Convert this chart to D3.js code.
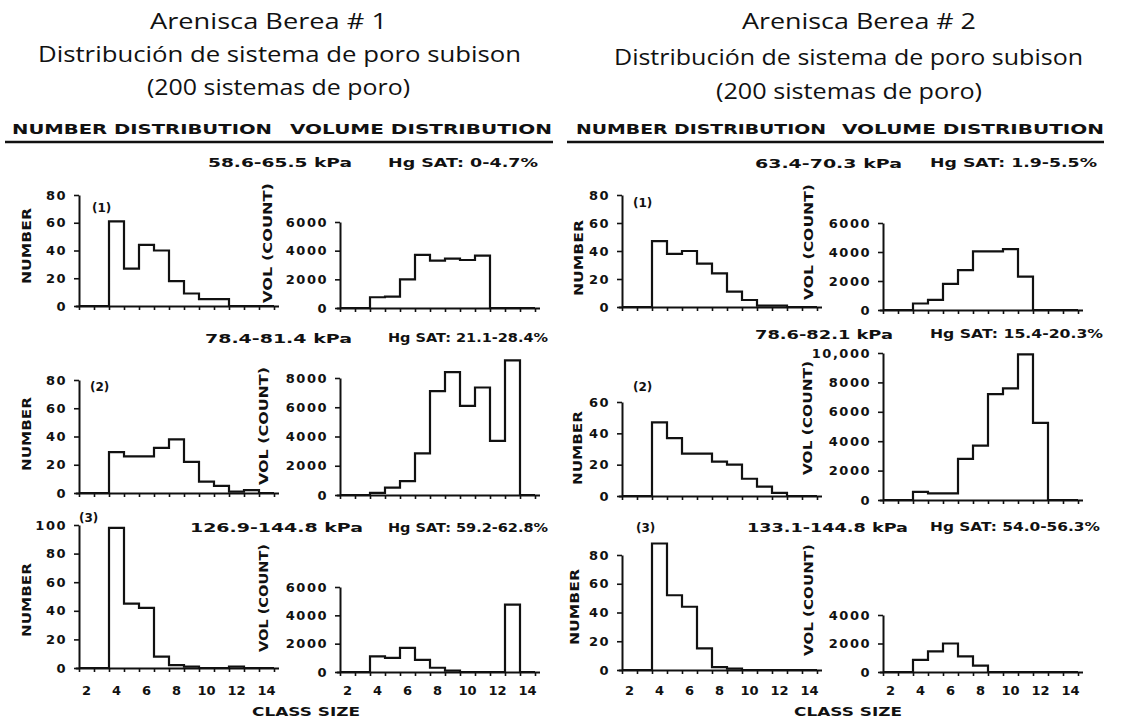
<!DOCTYPE html>
<html><head><meta charset="utf-8">
<script src="https://cdn.jsdelivr.net/npm/d3@7"></script>
<style>body{margin:0;background:#fff;} svg{display:block;}</style>
</head><body><svg id="c" width="1121" height="719"></svg>
<script>
// ---- data (classes 2..14) ----
const classes = [2,3,4,5,6,7,8,9,10,11,12,13,14];
const berea1NumberP1 = [0,0,61,27,44,40,18,9,5,5,0,0,0];
const berea1VolumeP1 = [0,0,750,800,2000,3700,3300,3450,3350,3650,0,0,0];
const berea1NumberP2 = [0,0,29,26,26,32,38,22,8,5,1,2,0];
const berea1VolumeP2 = [0,0,150,500,950,2850,7100,8400,6100,7350,3700,9200,0];
const berea1NumberP3 = [0,0,98,45,42,8,2,1,0,0,1,0,0];
const berea1VolumeP3 = [0,0,1100,1000,1700,850,300,100,0,0,0,4750,0];
const berea2NumberP1 = [0,0,47,38,40,31,24,11,5,1,1,0,0];
const berea2VolumeP1 = [0,0,450,700,1800,2750,4050,4050,4200,2300,0,0,0];
const berea2NumberP2 = [0,0,47,37,27,27,22,20,11,6,2,0,0];
const berea2VolumeP2 = [0,0,550,450,450,2800,3700,7200,7600,9900,5250,0,0];
const berea2NumberP3 = [0,0,88,52,44,15,2,1,0,0,0,0,0];
const berea2VolumeP3 = [0,0,850,1450,2000,1100,450,0,0,0,0,0,0];

// ---- tick values / labels ----
const ticksN60 = [0,20,40,60];
const ticksN80 = [0,20,40,60,80];
const ticksN100 = [0,20,40,60,80,100];
const ticksV4000 = [0,2000,4000];
const ticksV6000 = [0,2000,4000,6000];
const ticksV8000 = [0,2000,4000,6000,8000];
const ticksV10000 = [0,2000,4000,6000,8000,10000];
const labelsV10000 = ["0","2000","4000","6000","8000","10,000"];
const xBinEdges = [1.5,2.5,3.5,4.5,5.5,6.5,7.5,8.5,9.5,10.5,11.5,12.5,13.5,14.5];
const xTickLabels = [2,4,6,8,10,12,14];

const titles1 = ["Arenisca Berea # 1","Distribución de sistema de poro subison","(200 sistemas de poro)"];
const titles2 = ["Arenisca Berea # 2","Distribución de sistema de poro subison","(200 sistemas de poro)"];
const pressure1 = ["58.6-65.5 kPa","78.4-81.4 kPa","126.9-144.8 kPa"];
const hgsat1 = ["Hg SAT: 0-4.7%","Hg SAT: 21.1-28.4%","Hg SAT: 59.2-62.8%"];
const pressure2 = ["63.4-70.3 kPa","78.6-82.1 kPa","133.1-144.8 kPa"];
const hgsat2 = ["Hg SAT: 1.9-5.5%","Hg SAT: 15.4-20.3%","Hg SAT: 54.0-56.3%"];

// ---- drawing ----
const svg = d3.select("#c");
svg.append("rect").attr("width",1121).attr("height",719).attr("fill","#fff");
const BOLD = "'DejaVu Sans', sans-serif";

function fit(x, y, str, len, o) {
  o = o || {};
  const t = svg.append("text").attr("x", x).attr("y", y).text(str)
    .attr("font-family", o.family || BOLD)
    .attr("font-weight", o.weight || "bold")
    .attr("font-size", o.size || 12)
    .attr("fill", "#111")
    .attr("text-anchor", o.anchor || "start");
  if (len) t.attr("textLength", len).attr("lengthAdjust", "spacingAndGlyphs");
  if (o.rotate) t.attr("transform", `rotate(-90,${x},${y})`);
  return t;
}

// titles
const tf = {family:"'Open Sans', sans-serif", weight:"normal", size:21, anchor:"middle"};
fit(268.5, 29, titles1[0], 237, tf);
fit(279.5, 62, titles1[1], 483, tf);
fit(278.5, 95, titles1[2], 263, tf);
fit(859, 29, titles2[0], 234, tf);
fit(848.5, 65, titles2[1], 469, tf);
fit(849, 99, titles2[2], 266, tf);

// section headings
const hf = {size:14};
fit(12, 134, "NUMBER DISTRIBUTION", 260, hf);
fit(290, 134, "VOLUME DISTRIBUTION", 262, hf);
fit(576, 134, "NUMBER DISTRIBUTION", 250, hf);
fit(842, 134, "VOLUME DISTRIBUTION", 262, hf);
svg.append("line").attr("x1",5).attr("x2",553).attr("y1",142).attr("y2",142).attr("stroke","#111").attr("stroke-width",2.5);
svg.append("line").attr("x1",567).attr("x2",1104).attr("y1",142).attr("y2",142).attr("stroke","#111").attr("stroke-width",2.5);

// pressure / saturation labels
const pf = {size:12};
fit(208, 167, pressure1[0], 144, pf); fit(388, 167, hgsat1[0], 150, pf);
fit(755, 168, pressure2[0], 147, pf); fit(930, 167, hgsat2[0], 167, pf);
fit(205, 343, pressure1[1], 147, pf); fit(388, 342, hgsat1[1], 160, pf);
fit(755, 339, pressure2[1], 138, pf); fit(930, 338, hgsat2[1], 173, pf);
fit(190, 532, pressure1[2], 173, pf); fit(388, 532, hgsat1[2], 160, pf);
fit(747, 532, pressure2[2], 161, pf); fit(930, 531, hgsat2[2], 170, pf);

// panels
const panels = [
  {data:berea1NumberP1, ticks:ticksN80,  x0:79,  y0:306, yTop:195},
  {data:berea1VolumeP1, ticks:ticksV6000,x0:340, y0:308, yTop:222},
  {data:berea2NumberP1, ticks:ticksN80,  x0:622, y0:307, yTop:195},
  {data:berea2VolumeP1, ticks:ticksV6000,x0:883, y0:310, yTop:223},
  {data:berea1NumberP2, ticks:ticksN80,  x0:79,  y0:493, yTop:380},
  {data:berea1VolumeP2, ticks:ticksV8000,x0:340, y0:495, yTop:378},
  {data:berea2NumberP2, ticks:ticksN60,  x0:622, y0:496, yTop:402},
  {data:berea2VolumeP2, ticks:ticksV10000,labels:labelsV10000, x0:883, y0:500, yTop:353},
  {data:berea1NumberP3, ticks:ticksN100, x0:79,  y0:668, yTop:525, xLabels:true},
  {data:berea1VolumeP3, ticks:ticksV6000,x0:340, y0:672, yTop:587, xLabels:true},
  {data:berea2NumberP3, ticks:ticksN80,  x0:622, y0:670, yTop:555, xLabels:true},
  {data:berea2VolumeP3, ticks:ticksV4000,x0:883, y0:672, yTop:615, xLabels:true}
];

panels.forEach(p => {
  const g = svg.append("g");
  const x = d3.scaleLinear().domain([1.25, 14.8]).range([p.x0 - 3.75, p.x0 + 13.3*15]);
  const y = d3.scaleLinear().domain([0, d3.max(p.ticks)]).range([p.y0, p.yTop]);

  const xa = g.append("g").attr("transform", `translate(0,${p.y0})`)
    .call(d3.axisBottom(x).tickValues(xBinEdges).tickSize(4).tickSizeOuter(0).tickFormat(""));
  const ya = g.append("g").attr("transform", `translate(${p.x0},0)`)
    .call(d3.axisLeft(y).tickValues(p.ticks).tickSize(5).tickSizeOuter(0).tickPadding(7)
      .tickFormat((d,i) => p.labels ? p.labels[i] : String(d)));
  [xa, ya].forEach(a => {
    a.attr("font-family", null).attr("font-size", null);
    a.select(".domain").attr("stroke","#111").attr("stroke-width",2);
    a.selectAll(".tick line").attr("stroke","#111").attr("stroke-width",1.6);
    a.selectAll(".tick text").attr("font-family", BOLD).attr("font-weight","bold")
      .attr("font-size", 13).attr("letter-spacing", 1.5).attr("fill","#111");
  });

  const pts = [];
  classes.forEach((c,i) => { pts.push([c-0.5, p.data[i]]); pts.push([c+0.5, p.data[i]]); });
  const line = d3.line().x(d => x(d[0])).y(d => y(d[1]));
  g.append("path").attr("d", line(pts)).attr("fill","none").attr("stroke","#111")
    .attr("stroke-width",2.2).attr("stroke-linejoin","miter");

  if (p.xLabels) {
    g.selectAll("text.xl").data(xTickLabels).enter().append("text").attr("class","xl")
      .attr("x", d => x(d)).attr("y", 695).attr("text-anchor","middle")
      .attr("font-family", BOLD).attr("font-weight","bold").attr("font-size",13)
      .attr("fill","#111").text(d => d);
  }
});

// axis titles
const af = {size:12, anchor:"middle", rotate:true};
fit(31, 246, "NUMBER", 76, af);
fit(31, 434, "NUMBER", 74, af);
fit(31, 600, "NUMBER", 74, af);
fit(583, 258, "NUMBER", 76, af);
fit(582, 448, "NUMBER", 74, af);
fit(579, 607, "NUMBER", 76, af);
fit(272, 243, "VOL (COUNT)", 120, af);
fit(268, 426, "VOL (COUNT)", 118, af);
fit(268, 598, "VOL (COUNT)", 108, af);
fit(813, 242, "VOL (COUNT)", 116, af);
fit(812, 418, "VOL (COUNT)", 114, af);
fit(813, 600, "VOL (COUNT)", 112, af);

// panel numbers
const nf = {size:12};
fit(92, 212, "(1)", null, nf);
fit(90, 391, "(2)", null, nf);
fit(79, 522, "(3)", null, nf);
fit(633, 207, "(1)", null, nf);
fit(633, 391, "(2)", null, nf);
fit(636, 532, "(3)", null, nf);

// class size labels
fit(306, 716, "CLASS SIZE", 108, {size:13, anchor:"middle"});
fit(848, 716, "CLASS SIZE", 108, {size:13, anchor:"middle"});
</script></body></html>
